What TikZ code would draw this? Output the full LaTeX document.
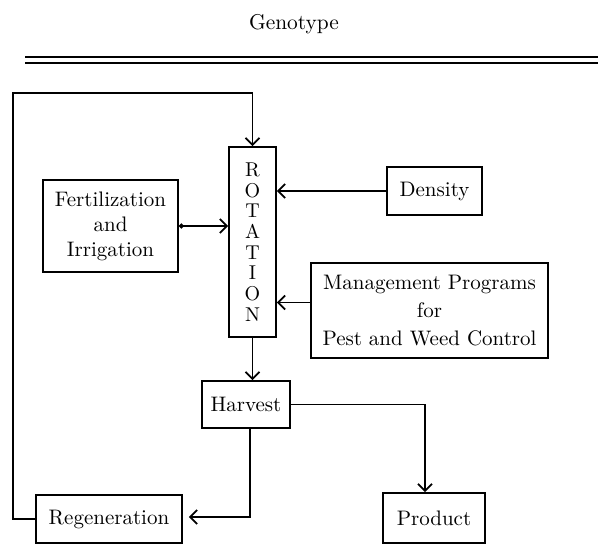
\documentclass[tikz,border=0pt]{standalone}
\usetikzlibrary{arrows.meta}
\begin{document}
\begin{tikzpicture}[x=0.5pt,y=-0.5pt,
  box/.style={draw,line width=0.9pt,inner sep=0pt,align=center,font=\fontsize{10.5}{12.5}\selectfont},
  arr/.style={line width=0.8pt,-{Straight Barb[length=3.5pt,width=7pt,line width=0.9pt]}},
  thin line/.style={line width=0.6pt}]
\useasboundingbox (0,0) rectangle (598,543);
\node[font=\fontsize{10.7}{13}\selectfont] (genotype) at (294,24) {Genotype};
\draw[line width=0.9pt] (25,57) -- (598,57) (25,63) -- (598,63);
\node[box,minimum width=23.5pt,minimum height=95pt,font=\fontsize{10}{10.35}\selectfont] (rotation) at (252.5,242) {R\\O\\T\\A\\T\\I\\O\\N};
\node[box,minimum width=67.5pt,minimum height=46pt] (fert) at (110.5,226) {Fertilization\\and\\Irrigation};
\node[box,minimum width=47.5pt,minimum height=24pt] (density) at (434.5,191) {Density};
\node[box,minimum width=118.5pt,minimum height=47.5pt,font=\fontsize{10.5}{14}\selectfont] (mgmt) at (429.5,310.5) {Management Programs\\for\\Pest and Weed Control};
\node[box,minimum width=44pt,minimum height=23.5pt] (harvest) at (246,404.5) {Harvest};
\node[box,minimum width=73pt,minimum height=24pt] (regen) at (109,519) {Regeneration};
\node[box,minimum width=51pt,minimum height=25pt] (product) at (434,518) {Product};
\coordinate (loop) at (13,93);
\draw[arr,{Circle[length=2.5pt]}-{Straight Barb[length=3.5pt,width=7pt,line width=0.9pt]}] (fert.east) -- (fert.east -| rotation.west);
\draw[arr] (density.west) -- (density.west -| rotation.east);
\draw[arr] ([yshift=4pt]mgmt.west) -- ([yshift=4pt]mgmt.west -| rotation.east);
\draw[arr] (rotation.south) -- (rotation.south |- harvest.north);
\draw[arr,line width=0.7pt] (harvest.east) -| ([xshift=-4.5pt]product.north);
\draw[arr,line width=0.7pt] ([xshift=2pt]harvest.south) |- ([xshift=3pt,yshift=1pt]regen.east);
\draw[arr,thin line] (regen.west) -| (loop) -| (rotation.north);
\end{tikzpicture}
\end{document}
